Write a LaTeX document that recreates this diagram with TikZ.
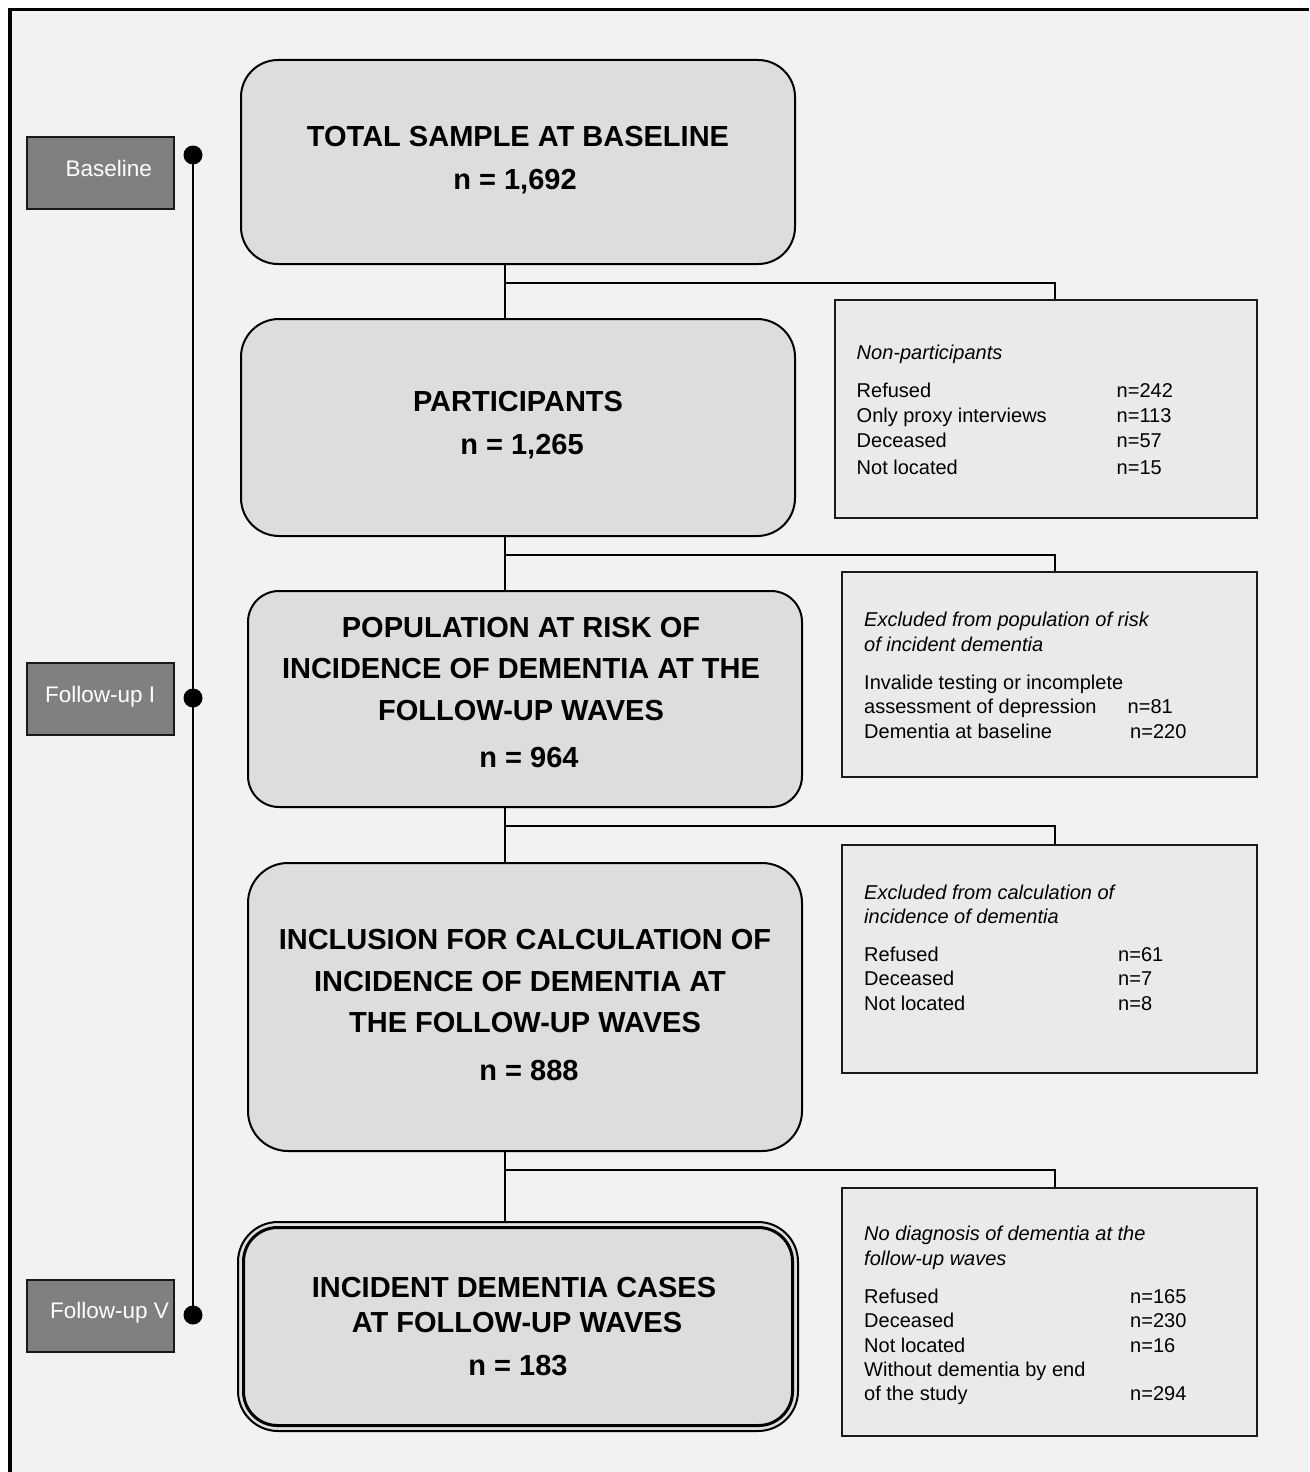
\documentclass[tikz,border=0pt]{standalone}
\usepackage{fontspec}
\setmainfont{Liberation Sans}
\definecolor{bgc}{HTML}{F2F2F2}
\definecolor{mainfill}{HTML}{DDDDDD}
\definecolor{sidefill}{HTML}{EAEAEA}
\definecolor{lblfill}{HTML}{808080}
\definecolor{edge}{HTML}{1A1A1A}
\tikzset{
  mainbox/.style={draw=black, line width=2pt, fill=mainfill, inner sep=0pt},
  sidebox/.style={draw=edge, line width=2pt, fill=sidefill, inner sep=0pt},
  lblbox/.style={draw=edge, line width=2pt, fill=lblfill, inner sep=0pt, minimum width=147pt, minimum height=72pt},
  tdot/.style={circle, fill=black, inner sep=0pt, minimum size=19pt},
  conn/.style={line width=2pt, draw=black},
  maintext/.style={font=\fontsize{29}{29}\selectfont\bfseries, anchor=base, inner sep=0pt},
  sidetext/.style={font=\fontsize{20}{20}\selectfont, anchor=base west, inner sep=0pt},
  itext/.style={font=\fontsize{20}{20}\selectfont\itshape, anchor=base west, inner sep=0pt},
  lbltext/.style={font=\fontsize{22.5}{22.5}\selectfont, text=white, anchor=base west, inner sep=0pt}
}
\begin{document}
\begin{tikzpicture}[x=1pt,y=-1pt]
\useasboundingbox (0,0) rectangle (1309,1472);
\fill[white] (0,0) rectangle (1309,1472);
\fill[bgc] (10,10) rectangle (1309,1472);
\draw[line width=3.5pt] (9.75,1472) -- (9.75,9.75) -- (1309,9.75);

% timeline
\node[tdot] (d1) at (193,155) {};
\node[tdot] (d2) at (193,698) {};
\node[tdot] (d3) at (193,1315) {};
\draw[conn] (d1.center) -- (d3.center);

\node[lblbox] (l1) at (100.5,173) {};
\node[lbltext] (l1t) at (65.5,176) {Baseline};
\node[lblbox] (l2) at (100.5,699) {};
\node[lbltext] (l2t) at (45,702) {Follow-up I};
\node[lblbox] (l3) at (100.5,1315.5) {};
\node[lbltext] (l3t) at (50,1318.5) {Follow-up V};

% main boxes
\node[mainbox, rounded corners=37pt, minimum width=554pt, minimum height=204pt] (b1) at (518,162) {};
\node[mainbox, rounded corners=38pt, minimum width=554pt, minimum height=217pt] (b2) at (518,427.5) {};
\node[mainbox, rounded corners=31pt, minimum width=554pt, minimum height=216pt] (b3) at (525,699) {};
\node[mainbox, rounded corners=40pt, minimum width=554pt, minimum height=288pt] (b4) at (525,1007) {};
\node[mainbox, rounded corners=40pt, minimum width=560pt, minimum height=209pt] (b5o) at (518,1326.5) {};
\node[mainbox, rounded corners=34pt, line width=3pt, minimum width=549pt, minimum height=198pt] (b5) at (518,1326.5) {};

\node[maintext] (t1a) at (518,146) {TOTAL SAMPLE AT BASELINE};
\node[maintext] (t1b) at (515,189) {n = 1,692};
\node[maintext] (t2a) at (518,411) {PARTICIPANTS};
\node[maintext] (t2b) at (522,454) {n = 1,265};
\node[maintext] (t3a) at (521,637) {POPULATION AT RISK OF};
\node[maintext] (t3b) at (521,678) {INCIDENCE OF DEMENTIA AT THE};
\node[maintext] (t3c) at (521,720) {FOLLOW-UP WAVES};
\node[maintext] (t3d) at (529,767) {n = 964};
\node[maintext] (t4a) at (525,949) {INCLUSION FOR CALCULATION OF};
\node[maintext] (t4b) at (520,991) {INCIDENCE OF DEMENTIA AT};
\node[maintext] (t4c) at (525,1032) {THE FOLLOW-UP WAVES};
\node[maintext] (t4d) at (529,1080) {n = 888};
\node[maintext] (t5a) at (514,1297) {INCIDENT DEMENTIA CASES};
\node[maintext] (t5b) at (517,1332) {AT FOLLOW-UP WAVES};
\node[maintext] (t5c) at (518,1375) {n = 183};

% side boxes
\node[sidebox, minimum width=422pt, minimum height=218pt] (s1) at (1046,409) {};
\node[sidebox, minimum width=415pt, minimum height=205pt] (s2) at (1049.5,674.5) {};
\node[sidebox, minimum width=415pt, minimum height=228pt] (s3) at (1049.5,959) {};
\node[sidebox, minimum width=415pt, minimum height=248pt] (s4) at (1049.5,1312) {};

\node[itext] (s1h) at (856.5,359) {Non-participants};
\node[sidetext] (s1r1) at (856.5,397) {Refused};
\node[sidetext] (s1r2) at (856.5,422) {Only proxy interviews};
\node[sidetext] (s1r3) at (856.5,447.5) {Deceased};
\node[sidetext] (s1r4) at (856.5,474) {Not located};
\node[sidetext] (s1n1) at (1116.5,397) {n=242};
\node[sidetext] (s1n2) at (1116.5,422) {n=113};
\node[sidetext] (s1n3) at (1116.5,447.5) {n=57};
\node[sidetext] (s1n4) at (1116.5,474) {n=15};

\node[itext] (s2h1) at (864,626.5) {Excluded from population of risk};
\node[itext] (s2h2) at (864,651) {of incident dementia};
\node[sidetext] (s2r1) at (864,689.5) {Invalide testing or incomplete};
\node[sidetext] (s2r2) at (864,713.5) {assessment of depression};
\node[sidetext] (s2r3) at (864,738) {Dementia at baseline};
\node[sidetext] (s2n2) at (1127.5,713.5) {n=81};
\node[sidetext] (s2n3) at (1130,738) {n=220};

\node[itext] (s3h1) at (864,899) {Excluded from calculation of};
\node[itext] (s3h2) at (864,923) {incidence of dementia};
\node[sidetext] (s3r1) at (864,961.5) {Refused};
\node[sidetext] (s3r2) at (864,985.5) {Deceased};
\node[sidetext] (s3r3) at (864,1010) {Not located};
\node[sidetext] (s3n1) at (1118,961.5) {n=61};
\node[sidetext] (s3n2) at (1118,985.5) {n=7};
\node[sidetext] (s3n3) at (1118,1010) {n=8};

\node[itext] (s4h1) at (864,1240.5) {No diagnosis of dementia at the};
\node[itext] (s4h2) at (864,1265) {follow-up waves};
\node[sidetext] (s4r1) at (864,1303.5) {Refused};
\node[sidetext] (s4r2) at (864,1327.5) {Deceased};
\node[sidetext] (s4r3) at (864,1352) {Not located};
\node[sidetext] (s4r4) at (864,1376.5) {Without dementia by end};
\node[sidetext] (s4r5) at (864,1400.5) {of the study};
\node[sidetext] (s4n1) at (1130,1303.5) {n=165};
\node[sidetext] (s4n2) at (1130,1327.5) {n=230};
\node[sidetext] (s4n3) at (1130,1352) {n=16};
\node[sidetext] (s4n5) at (1130,1400.5) {n=294};

% connectors
\coordinate (j1) at (505,283);
\coordinate (j2) at (505,555);
\coordinate (j3) at (505,826);
\coordinate (j4) at (505,1170);
\draw[conn] (j1 |- b1.south) -- (j1 |- b2.north);
\draw[conn] (j1) -| ([xshift=9pt]s1.north);
\draw[conn] (j2 |- b2.south) -- (j2 |- b3.north);
\draw[conn] (j2) -| ([xshift=5.5pt]s2.north);
\draw[conn] (j3 |- b3.south) -- (j3 |- b4.north);
\draw[conn] (j3) -| ([xshift=5.5pt]s3.north);
\draw[conn] (j4 |- b4.south) -- (j4 |- b5o.north);
\draw[conn] (j4) -| ([xshift=5.5pt]s4.north);
\end{tikzpicture}
\end{document}
